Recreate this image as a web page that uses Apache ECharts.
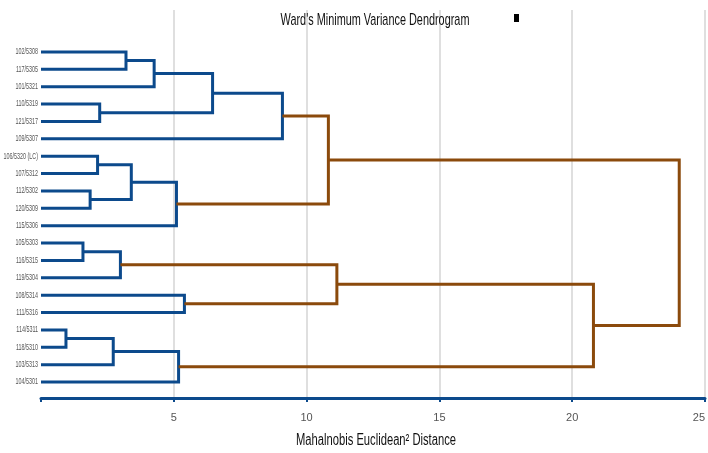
<!DOCTYPE html>
<html>
<head>
<meta charset="utf-8">
<script src="https://cdn.jsdelivr.net/npm/echarts@6/dist/echarts.min.js"></script>
<style>
  html, body { margin: 0; padding: 0; background: #fff; }
  #chart { width: 708px; height: 453px; }
</style>
</head>
<body>
<div id="chart"></div>
<script>
// Leaves in display order (top to bottom)
const leaves = [
  '102/5308', '117/5305', '101/5321', '110/5319', '121/5317', '109/5307',
  '106/5320 (LC)', '107/5312', '112/5302', '120/5309', '115/5306',
  '105/5303', '116/5315', '119/5304', '108/5314', '111/5316',
  '114/5311', '118/5310', '103/5313', '104/5301'
];

// Linkage in merge order: node ids 0..19 are leaves, merge k creates node 20 + k
const mergeLeft   = [16, 11,  8,  6,  3, 20, 21,  0, 23, 27, 28, 25, 14, 29, 33, 34, 26, 36, 35];
const mergeRight  = [17, 12,  9,  7,  4, 18, 13,  1, 22,  2, 10, 19, 15, 24,  5, 30, 32, 31, 37];
// Merge heights (Mahalanobis Euclidean² distance)
const mergeHeight = [0.94, 1.58, 1.85, 2.13, 2.21, 2.72, 2.99, 3.20, 3.40, 4.26,
                     5.10, 5.18, 5.40, 6.46, 9.09, 10.82, 11.14, 20.80, 24.03];

const xTicks = [0, 5, 10, 15, 20, 25];
const cutHeight = 10;

const chartTitle = "Ward's Minimum Variance Dendrogram";
const axisTitle = 'Mahalnobis Euclidean² Distance';

const BLUE = '#0c4a8c';
const BROWN = '#8b4a0c';
const FONT = "'Liberation Sans', Arial, sans-serif";

// Node positions: leaves sit at their index, merges at the midpoint of their children
const n = leaves.length;
const nodeX = [], nodeY = [];
for (let i = 0; i < n; i++) { nodeX[i] = 0; nodeY[i] = i; }
const links = [];
for (let k = 0; k < mergeHeight.length; k++) {
  const a = mergeLeft[k], b = mergeRight[k], h = mergeHeight[k];
  nodeX[n + k] = h;
  nodeY[n + k] = (nodeY[a] + nodeY[b]) / 2;
  links.push([nodeX[a], nodeY[a], nodeX[b], nodeY[b], h, h > cutHeight ? 1 : 0]);
}

const chart = echarts.init(document.getElementById('chart'));

chart.setOption({
  animation: false,
  graphic: [
    {
      type: 'text', x: 375, y: 20, scaleX: 0.64, z: 10,
      style: {
        text: chartTitle, fontFamily: FONT, fontSize: 17, fill: '#111',
        align: 'center', verticalAlign: 'middle'
      }
    },
    {
      type: 'rect', x: 514, y: 14, z: 10, shape: { width: 5, height: 8 },
      style: { fill: '#000' }
    },
    {
      type: 'text', x: 376, y: 441, scaleX: 0.7, z: 10,
      style: {
        text: axisTitle, fontFamily: FONT, fontSize: 16, fill: '#111',
        align: 'center', verticalAlign: 'middle'
      }
    }
  ],
  grid: { left: 41, right: 1, top: 10, bottom: 55 },
  xAxis: {
    type: 'value', position: 'bottom',
    min: xTicks[0], max: xTicks[xTicks.length - 1], interval: xTicks[1] - xTicks[0],
    axisLine: { show: true, onZero: false, lineStyle: { color: BLUE, width: 3 } },
    axisTick: { show: true, length: 4, lineStyle: { color: BLUE, width: 2 } },
    axisLabel: {
      fontFamily: FONT, fontSize: 11, color: '#555', margin: 14,
      alignMaxLabel: 'right',
      formatter: v => v === 0 ? '' : String(v)
    },
    splitLine: {
      show: true,
      lineStyle: { color: ['transparent', '#d4d4d4', '#d4d4d4', '#d4d4d4', '#d4d4d4', '#d4d4d4'], width: 1.5 }
    }
  },
  yAxis: {
    type: 'value', inverse: true, min: -2.41, max: 19.92,
    axisLine: { show: false }, axisTick: { show: false },
    axisLabel: { show: false }, splitLine: { show: false }
  },
  series: [
    {
      // Dendrogram links: child -> merge height -> other child
      type: 'custom',
      renderItem: function (params, api) {
        const p1 = api.coord([api.value(0), api.value(1)]);
        const p2 = api.coord([api.value(4), api.value(1)]);
        const p3 = api.coord([api.value(4), api.value(3)]);
        const p4 = api.coord([api.value(2), api.value(3)]);
        return {
          type: 'polyline',
          shape: { points: [p1, p2, p3, p4] },
          style: { stroke: api.value(5) ? BROWN : BLUE, lineWidth: 3, fill: null, lineJoin: 'miter' }
        };
      },
      encode: { x: [0, 2, 4], y: [1, 3] },
      data: links,
      z: 3
    },
    {
      // Leaf labels, set in a condensed face to the left of each leaf
      type: 'custom',
      renderItem: function (params, api) {
        const p = api.coord([0, api.value(1)]);
        return {
          type: 'text', x: p[0] - 3, y: p[1], scaleX: 0.6,
          style: {
            text: leaves[params.dataIndex], fontFamily: FONT, fontSize: 9, fill: '#555',
            align: 'right', verticalAlign: 'middle'
          }
        };
      },
      encode: { x: 0, y: 1 },
      data: leaves.map((name, i) => [0, i]),
      z: 4
    }
  ]
});
</script>
</body>
</html>
